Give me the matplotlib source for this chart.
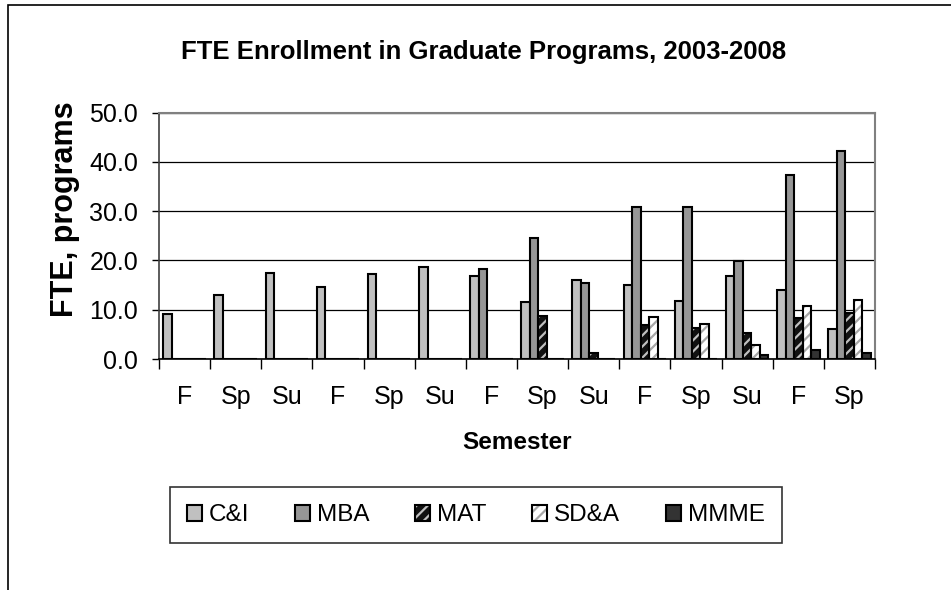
import matplotlib
matplotlib.use('Agg')
import matplotlib.pyplot as plt
from matplotlib.patches import Rectangle
from matplotlib.legend_handler import HandlerTuple
import numpy as np

plt.rcParams['font.family'] = ['Liberation Sans', 'DejaVu Sans']
plt.rcParams['hatch.linewidth'] = 1.6

semesters = ['F', 'Sp', 'Su', 'F', 'Sp', 'Su', 'F', 'Sp', 'Su', 'F', 'Sp', 'Su', 'F', 'Sp']
programs = ['C&I', 'MBA', 'MAT', 'SD&A', 'MMME']

ci = [9.2, 12.9, 17.5, 14.6, 17.2, 18.7, 16.9, 11.5, 16.1, 15.1, 11.8, 16.8, 14.0, 6.1]
mba = [0, 0, 0, 0, 0, 0, 18.2, 24.6, 15.4, 30.8, 30.8, 19.8, 37.3, 42.1]
mat = [0, 0, 0, 0, 0, 0, 0, 8.7, 1.3, 6.9, 6.2, 5.3, 8.4, 9.4]
sda = [0, 0, 0, 0, 0, 0, 0, 0, 0, 8.5, 7.1, 2.8, 10.8, 11.9]
mmme = [0, 0, 0, 0, 0, 0, 0, 0, 0, 0, 0, 0.8, 1.8, 1.2]

series = [ci, mba, mat, sda, mmme]
faces = ['#c0c0c0', '#969696', '#111111', '#ffffff', '#333333']
hatch_cols = [None, None, '#c0c0c0', '#a8a8a8', None]
hatches = [None, None, '///', '///', None]

fig = plt.figure(figsize=(9.51, 5.90), dpi=100)
ax = fig.add_axes([0.1672, 0.3915, 0.7529, 0.4178])

x = np.arange(len(semesters))
w = 1 / 6
for k, vals in enumerate(series):
    pos = x + (k - 2) * w
    if hatches[k]:
        ax.bar(pos, vals, w, color=faces[k], edgecolor=hatch_cols[k], hatch=hatches[k],
               linewidth=0, zorder=3)
        ax.bar(pos, vals, w, fill=False, edgecolor='black', linewidth=1.5, zorder=4)
    else:
        ax.bar(pos, vals, w, color=faces[k], edgecolor='black', linewidth=1.5, zorder=3)

ax.set_xlim(-0.5, len(semesters) - 0.5)
ax.set_ylim(0, 50)
ax.set_yticks(np.arange(0, 51, 10))
ax.set_yticklabels(['%.1f' % v for v in np.arange(0, 51, 10)], fontsize=18)
ax.yaxis.grid(True, color='black', linewidth=0.9, zorder=0)
ax.set_axisbelow(True)

ax.set_xticks(x)
ax.set_xticklabels(semesters, fontsize=18)
ax.set_xticks(np.arange(-0.5, len(semesters)), minor=True)
ax.tick_params(axis='x', which='major', length=0, pad=19)
ax.tick_params(axis='x', which='minor', length=7, width=1, direction='out')
ax.tick_params(axis='y', length=5, width=1, direction='out', pad=10)

for s in ['top', 'right']:
    ax.spines[s].set_color('#808080')
    ax.spines[s].set_linewidth(1.5)
ax.spines['left'].set_color('#404040')
ax.spines['bottom'].set_color('black')
ax.spines['left'].set_linewidth(1.2)
ax.spines['bottom'].set_linewidth(1.2)

fig.text(517 / 951, 1 - 449 / 590, 'Semester', ha='center', va='baseline',
         fontsize=17.5, fontweight='bold')
fig.text(80 / 951, 1 - 209 / 590, 'FTE, programs', rotation=90, ha='right', va='center',
         fontsize=22, fontweight='bold')
fig.text(484 / 951, 1 - 59 / 590, 'FTE Enrollment in Graduate Programs, 2003-2008',
         ha='center', va='baseline', fontsize=18.5, fontweight='bold')

handles = []
for k in range(5):
    if hatches[k]:
        h1 = Rectangle((0, 0), 1, 1, facecolor=faces[k], edgecolor=hatch_cols[k],
                       hatch=hatches[k], linewidth=0)
        h2 = Rectangle((0, 0), 1, 1, fill=False, edgecolor='black', linewidth=1.5)
        handles.append((h1, h2))
    else:
        handles.append(Rectangle((0, 0), 1, 1, facecolor=faces[k], edgecolor='black',
                                 linewidth=1.5))
leg = fig.legend(handles, programs, loc='center', bbox_to_anchor=(0.5005, 0.1263),
                 ncol=5, fontsize=17.5, frameon=True, fancybox=False,
                 edgecolor='black', handlelength=0.6, handleheight=0.6,
                 handletextpad=0.3, columnspacing=1.88, borderpad=0.7,
                 handler_map={tuple: HandlerTuple(ndivide=1)})
leg.get_frame().set_linewidth(1.2)

fig.add_artist(Rectangle((8 / 951, -0.1), 1.2, (1 - 5 / 590) + 0.1,
                         transform=fig.transFigure, fill=False,
                         edgecolor='black', linewidth=1.2))

fig.savefig('out.png', dpi=100)
